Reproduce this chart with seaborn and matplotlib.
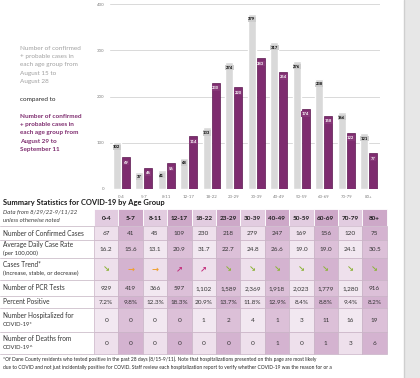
import pandas as pd
import seaborn as sns
import matplotlib.pyplot as plt
from matplotlib.patches import Rectangle

# 연령대별 확진자 수 (8/15-8/28 vs 8/29-9/11)
ages = ['0-4', '5-7', '8-11', '12-17', '18-22', '23-29', '30-39',
        '40-49', '50-59', '60-69', '70-79', '80+']
prev_cases = [102, 37, 41, 68, 133, 274, 379, 317, 276, 238, 166, 121]
curr_cases = [69, 46, 56, 114, 230, 220, 283, 254, 174, 158, 122, 77]

# 요약 통계 표
row_labels = [['Number of Confirmed Cases'],
              ['Average Daily Case Rate', '(per 100,000)'],
              ['Cases Trend*', '(Increase, stable, or decrease)'],
              ['Number of PCR Tests'],
              ['Percent Positive'],
              ['Number Hospitalized for', 'COVID-19*'],
              ['Number of Deaths from', 'COVID-19^']]
confirmed = ['67', '41', '45', '109', '230', '218', '279', '247', '169', '156', '120', '75']
rate = ['16.2', '15.6', '13.1', '20.9', '31.7', '22.7', '24.8', '26.6', '19.0', '19.0', '24.1', '30.5']
trend = ['down', 'stable', 'stable', 'up', 'up', 'down', 'down', 'down', 'down', 'down', 'down', 'down']
pcr = ['929', '419', '366', '597', '1,102', '1,589', '2,369', '1,918', '2,023', '1,779', '1,280', '916']
pct_pos = ['7.2%', '9.8%', '12.3%', '18.3%', '20.9%', '13.7%', '11.8%', '12.9%', '8.4%', '8.8%', '9.4%', '8.2%']
hosp = ['0', '0', '0', '0', '1', '2', '4', '1', '3', '11', '16', '19']
deaths = ['0', '0', '0', '0', '0', '0', '0', '1', '0', '1', '3', '6']

GRAY = '#d9d9d9'
PURPLE = '#7e2c6f'

sns.set_theme(style='white')
plt.rcParams['font.family'] = ['Lato', 'DejaVu Sans']

fig = plt.figure(figsize=(4.2, 3.78), dpi=100)

# 배경 (픽셀 좌표)
bg = fig.add_axes([0, 0, 1, 1])
bg.set_xlim(0, 420)
bg.set_ylim(378, 0)
bg.axis('off')
bg.add_patch(Rectangle((404, 0), 16, 378, fc='#e7e7e7', ec='none'))
bg.plot([404, 404], [0, 378], color='#cfcfcf', lw=1)

# 막대그래프
df = pd.DataFrame({
    'age': ages * 2,
    'cases': prev_cases + curr_cases,
    'period': ['Aug 15-28'] * len(ages) + ['Aug 29-Sep 11'] * len(ages),
})
ax = fig.add_axes([110 / 420, 1 - 189 / 378, 270 / 420, 185 / 378])
sns.barplot(data=df, x='age', y='cases', hue='period', palette=[GRAY, PURPLE],
            width=0.8, gap=0.12, ax=ax, legend=False, saturation=1)
for p in ax.containers[1]:
    p.set_edgecolor('#5b1750')
    p.set_linewidth(0.5)
ax.set_ylim(0, 400)
ax.set_yticks([0, 100, 200, 300, 400])
ax.set_xlabel('')
ax.set_ylabel('')
ax.grid(axis='y', color='#d9d9d9', lw=0.7)
ax.set_axisbelow(True)
for s in ax.spines.values():
    s.set_visible(False)
ax.tick_params(axis='both', labelsize=3.2, colors='#7f7f7f', length=0, pad=4)

for cont, txtc, boxc in [(ax.containers[0], 'black', '#cdcdcd'),
                         (ax.containers[1], 'white', '#873878')]:
    for p in cont:
        ax.annotate(f'{int(p.get_height())}',
                    (p.get_x() + p.get_width() / 2, p.get_height()),
                    xytext=(0, -2.5), textcoords='offset points',
                    ha='center', va='top', fontsize=3, color=txtc,
                    fontweight='bold',
                    bbox=dict(boxstyle='square,pad=0.15', fc=boxc, ec='none'))

# 왼쪽 설명 텍스트
gray_lines = ['Number of confirmed', '+ probable cases in', 'each age group from',
              'August 15 to', 'August 28']
purple_lines = ['Number of confirmed', '+ probable cases in', 'each age group from',
                'August 29 to', 'September 11']
for i, t in enumerate(gray_lines):
    bg.text(20, 48 + i * 8.4, t, fontsize=4.6, color='#a0a0a0', va='center')
bg.text(20, 99, 'compared to', fontsize=4.6, color='#262626', va='center')
for i, t in enumerate(purple_lines):
    bg.text(20, 116 + i * 8.4, t, fontsize=4.6, color='#7e2c6f', va='center',
            fontweight='bold')

# 표
bg.text(3, 203, 'Summary Statistics for COVID-19 by Age Group', fontsize=5.4,
        fontweight='bold', color='#1a1a1a', va='center')
bg.text(3, 212, 'Data from 8/29/22-9/11/22', fontsize=4.3, style='italic',
        color='#404040', va='center')
bg.text(3, 220, 'unless otherwise noted', fontsize=4.3, style='italic',
        color='#404040', va='center')

x0, cw = 94, 24.4
row_edges = [209, 226, 240, 258, 280, 296, 308, 332, 354]
light = ['#eee0ec', '#f2e8f1']
dark = ['#d4b3d0', '#dcc0d8']

# 헤더
for j, a in enumerate(ages):
    fc = '#e2cce0' if j % 2 == 0 else '#cda8c8'
    bg.add_patch(Rectangle((x0 + j * cw, row_edges[0]), cw, row_edges[1] - row_edges[0],
                           fc=fc, ec='white', lw=0.6))
    bg.text(x0 + (j + 0.5) * cw, (row_edges[0] + row_edges[1]) / 2 + 0.5, a,
            fontsize=4.6, fontweight='bold', ha='center', va='center', color='#1a1a1a')

rows = [confirmed, rate, trend, pcr, pct_pos, hosp, deaths]
arrow = {'down': ('\u2198', '#8db33a'), 'stable': ('\u2192', '#f0a030'),
         'up': ('\u2197', '#c4307e')}
for r, vals in enumerate(rows):
    y1, y2 = row_edges[r + 1], row_edges[r + 2]
    yc = (y1 + y2) / 2
    bg.plot([0, x0], [y1, y1], color='#cdbfcb', lw=0.6)
    labs = row_labels[r]
    if len(labs) == 1:
        bg.text(3, yc, labs[0], fontsize=4.7, color='#333333', va='center')
    else:
        bg.text(3, yc - 4.3, labs[0], fontsize=4.7, color='#333333', va='center')
        bg.text(3, yc + 4.3, labs[1], fontsize=4.2, color='#333333', va='center')
    for j, v in enumerate(vals):
        fc = (light if j % 2 == 0 else dark)[r % 2]
        bg.add_patch(Rectangle((x0 + j * cw, y1), cw, y2 - y1, fc=fc, ec='#c9b3c6', lw=0.5))
        if r == 2:
            sym, col = arrow[v]
            bg.text(x0 + (j + 0.5) * cw, yc, sym, fontsize=6, color=col,
                    ha='center', va='center', family=['DejaVu Sans'], fontweight='bold')
        else:
            bg.text(x0 + (j + 0.5) * cw, yc + 0.5, v, fontsize=4.6, color='#333333',
                    ha='center', va='center')
bg.plot([0, x0], [row_edges[-1], row_edges[-1]], color='#cdbfcb', lw=0.6)

# 각주
bg.text(3, 359, '*Of Dane County residents who tested positive in the past 28 days (8/15-9/11). '
        'Note that hospitalizations presented on this page are most likely',
        fontsize=3.5, color='#262626', va='center')
bg.text(3, 367, 'due to COVID and not just incidentally positive for COVID. Staff review each '
        'hospitalization report to verify whether COVID-19 was the reason for or a',
        fontsize=3.5, color='#262626', va='center')

fig.savefig('out.png', dpi=100)
